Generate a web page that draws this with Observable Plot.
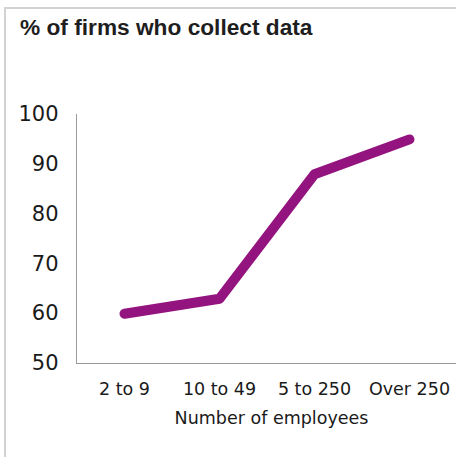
<!DOCTYPE html>
<html>
<head>
<meta charset="utf-8">
<script src="https://cdn.jsdelivr.net/npm/d3@7"></script>
<script src="https://cdn.jsdelivr.net/npm/@observablehq/plot@0.6"></script>
<style>
  html, body { margin: 0; padding: 0; background: #fff; }
  #wrap { position: relative; width: 456px; height: 457px; overflow: hidden; }
  #box { position: absolute; left: 4px; top: 7px; right: -10px; bottom: -10px;
         border-top: 2px solid #d2d2d2; border-left: 2px solid #d2d2d2; }
  #title { position: absolute; left: 20px; top: 14px; margin: 0;
           font-family: "Liberation Sans", Arial, sans-serif; font-weight: bold;
           font-size: 22.7px; color: #1e1e1e; letter-spacing: 0; }
  #chart { position: absolute; left: 0; top: 0; }
</style>
</head>
<body>
<div id="wrap">
  <div id="box"></div>
  <div id="chart"></div>
  <h2 id="title">% of firms who collect data</h2>
</div>
<script>
const titleText = "% of firms who collect data";
const categories = ["2 to 9", "10 to 49", "5 to 250", "Over 250"];
const values = [60, 63, 88, 95];
const yTicks = [50, 60, 70, 80, 90, 100];
const xTitle = "Number of employees";

const data = categories.map((c, i) => ({size: c, pct: values[i]}));

const chart = Plot.plot({
  width: 456,
  height: 457,
  marginLeft: 76,
  marginRight: 0,
  marginTop: 114,
  marginBottom: 94,
  style: {background: "transparent", fontFamily: "DejaVu Sans, sans-serif", color: "#1a1a1a"},
  x: {type: "point", domain: categories, padding: 0.5, label: null},
  y: {domain: [50, 100], label: null},
  marks: [
    Plot.axisY({ticks: yTicks, tickSize: 0, tickPadding: 18, fontSize: 21, label: null}),
    Plot.axisX({tickSize: 0, tickPadding: 19, fontSize: 17.5, label: null}),
    Plot.frame({anchor: "left", stroke: "#9a9a9a"}),
    Plot.ruleY([50], {stroke: "#9a9a9a"}),
    Plot.text([xTitle], {frameAnchor: "bottom", dy: 60, dx: 5, fontSize: 17.5, fill: "#1a1a1a"}),
    Plot.line(data, {x: "size", y: "pct", stroke: "#93137f", strokeWidth: 10,
      strokeLinecap: "round", strokeLinejoin: "round"})
  ]
});
document.getElementById("chart").appendChild(chart);
</script>
</body>
</html>
